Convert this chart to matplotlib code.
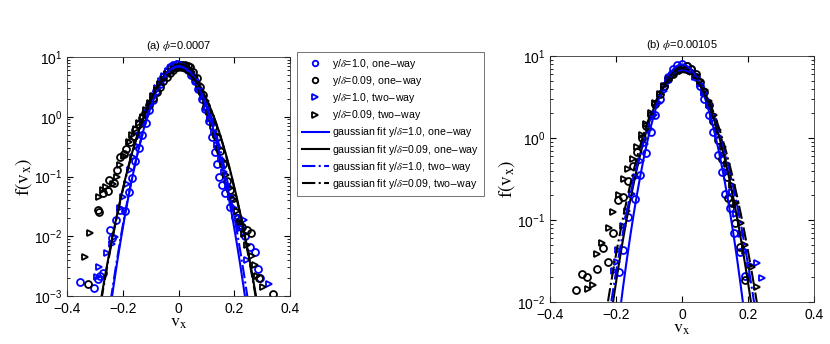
import numpy as np
import matplotlib
matplotlib.use("Agg")
import matplotlib.pyplot as plt

plt.rcParams['font.family'] = ['Liberation Sans', 'DejaVu Sans']
plt.rcParams['mathtext.fontset'] = 'stix'

# ---- panel (a) phi = 0.0007 : scatter data ----
a_bo_x = [-0.352, -0.304, -0.290, -0.280, -0.271, -0.245, -0.239, -0.223, -0.209, -0.191,
          -0.179, -0.167, -0.155, -0.143, -0.130, -0.118, -0.105, -0.093, -0.080, -0.068,
          -0.055, -0.043, -0.030, -0.018, -0.005, 0.008, 0.020, 0.033, 0.045, 0.058,
          0.070, 0.083, 0.095, 0.108, 0.120, 0.130, 0.137, 0.147, 0.155, 0.167,
          0.185, 0.203, 0.221, 0.239, 0.256, 0.274, 0.286, 0.292]
a_bo_y = [0.0017, 0.00135, 0.0019, 0.0022, 0.0024, 0.0127, 0.0092, 0.0186, 0.0275, 0.026,
          0.056, 0.095, 0.18, 0.30, 0.50, 0.80, 1.3, 1.9, 2.7, 3.6,
          4.6, 5.7, 6.8, 7.4, 7.6, 7.4, 6.9, 6.0, 5.0, 3.9,
          2.9, 2.0, 1.35, 0.85, 0.45, 0.26, 0.16, 0.10, 0.072, 0.052,
          0.031, 0.021, 0.0155, 0.010, 0.0067, 0.0055, 0.0028, 0.002]

a_ko_x = [-0.324, -0.290, -0.284, -0.270, -0.252, -0.248, -0.230, -0.222, -0.209, -0.197,
          -0.187, -0.175, -0.161, -0.156, -0.143, -0.130, -0.120, -0.105, -0.090, -0.078,
          -0.066, -0.054, -0.042, -0.030, -0.019, -0.005, 0.011, 0.025, 0.035, 0.041,
          0.053, 0.065, 0.077, 0.089, 0.100, 0.112, 0.125, 0.137, 0.149, 0.161,
          0.173, 0.185, 0.197, 0.215, 0.227, 0.247, 0.259, 0.289, 0.340]
a_ko_y = [0.0016, 0.027, 0.025, 0.052, 0.058, 0.088, 0.077, 0.13, 0.21, 0.24,
          0.29, 0.38, 0.47, 0.60, 0.75, 0.95, 1.14, 1.6, 2.03, 2.6,
          3.18, 3.9, 4.69, 5.4, 6.06, 6.7, 7.3, 7.4, 7.2, 6.9,
          5.7, 4.4, 3.2, 2.3, 1.5, 1.0, 0.68, 0.45, 0.27, 0.16,
          0.085, 0.06, 0.043, 0.020, 0.0145, 0.0129, 0.0112, 0.002, 0.00107]

a_bt_x = [-0.292, -0.284, -0.258, -0.240, -0.227, -0.211, -0.198, -0.186, -0.174, -0.162,
          -0.150, -0.138, -0.126, -0.113, -0.101, -0.088, -0.076, -0.063, -0.051, -0.038,
          -0.026, -0.013, 0.000, 0.013, 0.026, 0.038, 0.051, 0.063, 0.076, 0.088,
          0.101, 0.113, 0.126, 0.138, 0.151, 0.163, 0.176, 0.188, 0.200, 0.213,
          0.226, 0.235, 0.247, 0.326]
a_bt_y = [0.0021, 0.003, 0.0052, 0.0075, 0.0099, 0.030, 0.046, 0.075, 0.13, 0.21,
          0.33, 0.50, 0.78, 1.15, 1.6, 2.2, 3.0, 3.9, 4.8, 5.8,
          6.6, 7.2, 7.5, 7.3, 6.8, 6.0, 5.0, 3.9, 2.9, 2.1,
          1.4, 0.9, 0.56, 0.34, 0.2, 0.12, 0.07, 0.045, 0.03, 0.021,
          0.0135, 0.0186, 0.004, 0.0016]

a_kt_x = [-0.334, -0.319, -0.286, -0.272, -0.259, -0.234, -0.221, -0.209, -0.196, -0.179,
          -0.166, -0.153, -0.140, -0.128, -0.115, -0.103, -0.090, -0.078, -0.065, -0.053,
          -0.040, -0.028, -0.015, -0.003, 0.010, 0.022, 0.035, 0.047, 0.060, 0.072,
          0.085, 0.097, 0.110, 0.122, 0.135, 0.147, 0.160, 0.172, 0.185, 0.197,
          0.209, 0.222, 0.235, 0.245, 0.262, 0.274, 0.280, 0.302]
a_kt_y = [0.00455, 0.0112, 0.046, 0.059, 0.068, 0.075, 0.099, 0.156, 0.22, 0.38,
          0.5, 0.62, 0.8, 1.0, 1.3, 1.7, 2.2, 2.8, 3.5, 4.3,
          5.1, 5.8, 6.4, 6.8, 7.0, 6.9, 6.5, 5.6, 4.6, 3.6,
          2.6, 1.8, 1.2, 0.78, 0.5, 0.3, 0.18, 0.105, 0.065, 0.042,
          0.026, 0.017, 0.011, 0.0071, 0.0046, 0.0033, 0.0022, 0.00144]

# gaussian fit parameters (mean, sigma), legend order
a_fit_mu = [0.000, 0.001, 0.003, 0.001]
a_fit_sigma = [0.0566, 0.0664, 0.0580, 0.0660]

# ---- panel (b) phi = 0.00105 ----
b_bo_x = [-0.190, -0.178, -0.163, -0.143, -0.127, -0.109, -0.095, -0.082, -0.068, -0.055,
          -0.041, -0.027, -0.014, 0.000, 0.014, 0.027, 0.041, 0.055, 0.068, 0.082,
          0.095, 0.109, 0.122, 0.130, 0.145, 0.158, 0.176, 0.190]
b_bo_y = [0.0234, 0.043, 0.11, 0.18, 0.355, 0.65, 1.2, 1.9, 3.0, 4.3,
          5.6, 7.0, 7.8, 7.9, 7.6, 6.9, 5.6, 4.3, 3.0, 1.9,
          1.2, 0.62, 0.39, 0.21, 0.139, 0.069, 0.041, 0.021]

b_ko_x = [-0.321, -0.304, -0.289, -0.257, -0.240, -0.223, -0.208, -0.193, -0.178, -0.163,
          -0.150, -0.136, -0.122, -0.109, -0.095, -0.082, -0.068, -0.054, -0.041, -0.027,
          -0.013, 0.000, 0.014, 0.028, 0.041, 0.055, 0.068, 0.082, 0.095, 0.109,
          0.122, 0.136, 0.140, 0.150, 0.161, 0.176, 0.191]
b_ko_y = [0.014, 0.022, 0.020, 0.0256, 0.045, 0.031, 0.070, 0.175, 0.193, 0.30,
          0.45, 0.68, 1.0, 1.4, 1.9, 2.6, 3.4, 4.3, 5.2, 6.0,
          6.7, 7.2, 7.5, 7.0, 6.0, 4.8, 3.6, 2.5, 1.6, 0.95,
          0.55, 0.33, 0.184, 0.16, 0.091, 0.047, 0.0186]

b_bt_x = [-0.205, -0.198, -0.193, -0.180, -0.166, -0.152, -0.139, -0.125, -0.111, -0.097,
          -0.084, -0.070, -0.056, -0.042, -0.029, -0.015, -0.001, 0.013, 0.026, 0.040,
          0.054, 0.068, 0.081, 0.095, 0.109, 0.123, 0.136, 0.150, 0.164, 0.178,
          0.191, 0.205, 0.226, 0.241]
b_bt_y = [0.024, 0.031, 0.043, 0.085, 0.13, 0.21, 0.33, 0.52, 0.85, 1.3,
          1.9, 2.7, 3.7, 4.8, 5.8, 6.6, 7.0, 7.0, 6.5, 5.6,
          4.6, 3.5, 2.5, 1.7, 1.05, 0.62, 0.38, 0.22, 0.12, 0.068,
          0.042, 0.028, 0.03, 0.0194]

b_kt_x = [-0.284, -0.271, -0.259, -0.243, -0.220, -0.210, -0.190, -0.176, -0.163, -0.149,
          -0.136, -0.122, -0.108, -0.095, -0.081, -0.068, -0.054, -0.040, -0.027, -0.013,
          0.001, 0.014, 0.028, 0.042, 0.055, 0.069, 0.083, 0.096, 0.110, 0.124,
          0.137, 0.151, 0.165, 0.178, 0.192, 0.211, 0.226]
b_kt_y = [0.0143, 0.016, 0.039, 0.052, 0.079, 0.126, 0.20, 0.32, 0.42, 0.56,
          0.78, 1.1, 1.5, 2.0, 2.7, 3.4, 4.3, 5.1, 5.9, 6.5,
          6.9, 7.0, 6.6, 5.8, 4.9, 3.8, 2.8, 1.9, 1.25, 0.78,
          0.48, 0.27, 0.16, 0.092, 0.05, 0.0265, 0.0154]

b_fit_mu = [0.000, 0.000, 0.002, 0.001]
b_fit_sigma = [0.0505, 0.0578, 0.0600, 0.0628]

labels = [r'y/$\delta$=1.0, one$-$way', r'y/$\delta$=0.09, one$-$way',
          r'y/$\delta$=1.0, two$-$way', r'y/$\delta$=0.09, two$-$way',
          r'gaussian fit y/$\delta$=1.0, one$-$way', r'gaussian fit y/$\delta$=0.09, one$-$way',
          r'gaussian fit y/$\delta$=1.0, two$-$way', r'gaussian fit y/$\delta$=0.09, two$-$way']
titles = [r'(a) $\phi$=0.0007', r'(b) $\phi$=0.00105']

BLUE = (0, 0, 1)
BLACK = (0, 0, 0)


def gauss(x, mu, sig):
    return np.exp(-(x - mu) ** 2 / (2 * sig ** 2)) / (sig * np.sqrt(2 * np.pi))


def draw(ax, pts, mus, sigs, ylim, title):
    handles = []
    styles = [('o', BLUE), ('o', BLACK), ('>', BLUE), ('>', BLACK)]
    for (xs, ys), (m, c) in zip(pts, styles):
        h, = ax.plot(xs, ys, m, ls='none', mfc='none', mec=c, ms=5, mew=1.3)
        handles.append(h)
    xx = np.linspace(-0.4, 0.4, 801)
    lstyles = [('-', BLUE), ('-', BLACK), ('-.', BLUE), ('-.', BLACK)]
    for mu, sg, (ls, c) in zip(mus, sigs, lstyles):
        h, = ax.plot(xx, gauss(xx, mu, sg), ls=ls, color=c, lw=1.5)
        handles.append(h)
    ax.set_yscale('log')
    ax.set_xlim(-0.4, 0.4)
    ax.set_ylim(*ylim)
    ax.set_xticks([-0.4, -0.2, 0, 0.2, 0.4])
    ax.set_xticklabels(['\u22120.4', '\u22120.2', '0', '0.2', '0.4'])
    ax.tick_params(which='both', direction='in', top=True, right=True, labelsize=10)
    ax.tick_params(axis='x', pad=4)
    ax.tick_params(which='major', length=4)
    ax.tick_params(which='minor', length=2)
    for s in ax.spines.values():
        s.set_linewidth(0.6)
        s.set_color('#333333')
    ax.set_title(title, fontsize=8, pad=6)
    ax.set_xlabel(r'$\mathrm{v_{x}}$', fontsize=13, labelpad=-1)
    ax.set_ylabel(r'$\mathrm{f(v_{x})}$', fontsize=14, labelpad=0)
    return handles


fig = plt.figure(figsize=(8.3, 3.44), dpi=100)
ax1 = fig.add_axes([67 / 830, 1 - 296 / 344, 223 / 830, 239 / 344])
ax2 = fig.add_axes([550 / 830, 1 - 302 / 344, 264 / 830, 246 / 344])

hs = draw(ax1, [(a_bo_x, a_bo_y), (a_ko_x, a_ko_y), (a_bt_x, a_bt_y), (a_kt_x, a_kt_y)],
          a_fit_mu, a_fit_sigma, (1e-3, 1e1), titles[0])
draw(ax2, [(b_bo_x, b_bo_y), (b_ko_x, b_ko_y), (b_bt_x, b_bt_y), (b_kt_x, b_kt_y)],
     b_fit_mu, b_fit_sigma, (1e-2, 1e1), titles[1])

leg = fig.legend(hs, labels, loc='upper left', bbox_to_anchor=(297 / 830, 1 - 52 / 344),
                 fontsize=7.6, frameon=True, fancybox=False, edgecolor='#333333',
                 borderaxespad=0, handlelength=2.6, handletextpad=0.3,
                 labelspacing=0.3, borderpad=0.45, numpoints=1, markerscale=0.8)
leg.get_frame().set_linewidth(0.6)

fig.savefig('out.png', dpi=100)
